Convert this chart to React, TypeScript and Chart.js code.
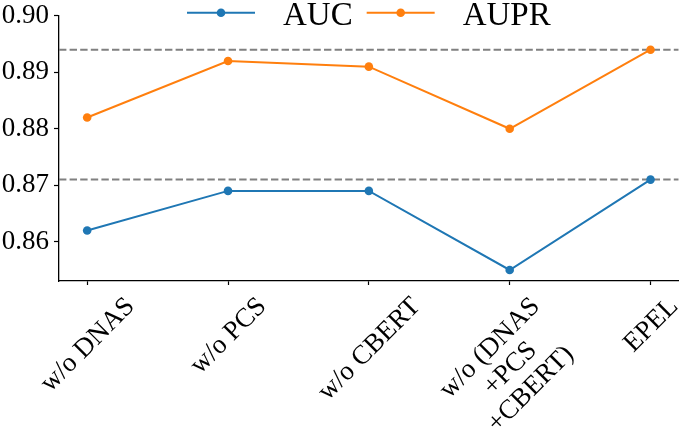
import React, { useRef, useEffect } from 'react';
import { Chart, registerables } from 'chart.js';

Chart.register(...registerables);

const categories = ['w/o DNAS', 'w/o PCS', 'w/o CBERT', 'w/o (DNAS\n+PCS\n+CBERT)', 'EPEL'];
const aucValues = [0.862, 0.869, 0.869, 0.855, 0.871];
const auprValues = [0.882, 0.892, 0.891, 0.880, 0.894];
const yTicks = [0.86, 0.87, 0.88, 0.89, 0.90];

const BLUE = '#1f77b4';
const ORANGE = '#ff7f0e';
const FONT = '"Liberation Serif", "Times New Roman", Tinos, serif';
const TICK_SIZE = 27;
const LEGEND_SIZE = 33;
const X_MIN = -0.2;
const X_MAX = categories.length - 1 + 0.2;

// rotated, centered x labels like matplotlib (rotation=45, ha=center)
const xLabelPlugin = {
  id: 'xLabels',
  afterDraw(chart: Chart) {
    const { ctx } = chart;
    const x = chart.scales.x;
    const lh = TICK_SIZE * 1.07;
    ctx.save();
    ctx.font = `${TICK_SIZE}px ${FONT}`;
    ctx.fillStyle = '#000';
    ctx.textAlign = 'center';
    ctx.textBaseline = 'middle';
    categories.forEach((label, i) => {
      const lines = label.split('\n');
      const w = Math.max(...lines.map(l => ctx.measureText(l).width));
      const h = (lines.length - 1) * lh + TICK_SIZE * 0.7;
      const half = ((w + h) * Math.SQRT1_2) / 2;
      const cx = x.getPixelForValue(i);
      const cy = x.top + 14 + half;
      ctx.save();
      ctx.translate(cx, cy);
      ctx.rotate(-Math.PI / 4);
      lines.forEach((line, j) => {
        ctx.fillText(line, 0, (j - (lines.length - 1) / 2) * lh + TICK_SIZE * 0.04);
      });
      ctx.restore();
    });
    ctx.restore();
  },
};

// matplotlib-style legend: line + marker handle, upper center
const legendPlugin = {
  id: 'topLegend',
  afterDraw(chart: Chart) {
    const { ctx, chartArea } = chart;
    const items = chart.data.datasets.filter(d => d.label);
    const HANDLE = 68;
    const TEXT_GAP = 28;
    const ITEM_GAP = 14;
    ctx.save();
    ctx.font = `${LEGEND_SIZE}px ${FONT}`;
    const widths = items.map(d => ctx.measureText(String(d.label)).width);
    const total = widths.reduce((s, w) => s + HANDLE + TEXT_GAP + w, 0) + ITEM_GAP * (items.length - 1);
    let px = (chartArea.left + chartArea.right) / 2 - total / 2;
    const cy = 12.7;
    items.forEach((d, i) => {
      const color = d.borderColor as string;
      ctx.strokeStyle = color;
      ctx.lineWidth = 2;
      ctx.beginPath();
      ctx.moveTo(px, cy);
      ctx.lineTo(px + HANDLE, cy);
      ctx.stroke();
      ctx.fillStyle = color;
      ctx.beginPath();
      ctx.arc(px + HANDLE / 2, cy, 4.3, 0, Math.PI * 2);
      ctx.fill();
      ctx.fillStyle = '#000';
      ctx.textAlign = 'left';
      ctx.textBaseline = 'alphabetic';
      ctx.fillText(String(d.label), px + HANDLE + TEXT_GAP, 25);
      px += HANDLE + TEXT_GAP + widths[i] + ITEM_GAP;
    });
    ctx.restore();
  },
};

export default function App() {
  const canvasRef = useRef<HTMLCanvasElement>(null);
  const chartRef = useRef<Chart | null>(null);

  useEffect(() => {
    const canvas = canvasRef.current;
    if (!canvas) return;
    let cancelled = false;

    const refLines = [auprValues[auprValues.length - 1], aucValues[aucValues.length - 1]];

    const seriesStyle = (color: string) => ({
      borderColor: color,
      backgroundColor: color,
      borderWidth: 2,
      pointRadius: 4.3,
      pointBorderWidth: 0,
      pointBackgroundColor: color,
      tension: 0,
      fill: false,
      order: 1,
    });

    const build = () => {
      if (cancelled) return;
      chartRef.current?.destroy();
      chartRef.current = new Chart(canvas, {
        type: 'line',
        data: {
          datasets: [
            {
              label: 'AUC',
              data: aucValues.map((v, i) => ({ x: i, y: v })),
              ...seriesStyle(BLUE),
            },
            {
              label: 'AUPR',
              data: auprValues.map((v, i) => ({ x: i, y: v })),
              ...seriesStyle(ORANGE),
            },
            ...refLines.map(v => ({
              label: '',
              data: [{ x: X_MIN, y: v }, { x: X_MAX, y: v }],
              borderColor: '#808080',
              borderWidth: 2,
              borderDash: [7.4, 3.2],
              pointRadius: 0,
              fill: false,
              order: 2,
            })),
          ],
        },
        options: {
          animation: false,
          responsive: false,
          layout: { padding: { top: 11, right: 2, left: 0, bottom: 0 } },
          plugins: {
            legend: { display: false },
            tooltip: { enabled: false },
          },
          scales: {
            x: {
              type: 'linear',
              min: X_MIN,
              max: X_MAX,
              afterBuildTicks: scale => {
                scale.ticks = categories.map((_, i) => ({ value: i }));
              },
              afterFit: scale => {
                scale.height = 150;
              },
              ticks: { display: false },
              grid: {
                drawOnChartArea: false,
                drawTicks: true,
                tickLength: 4,
                tickColor: '#000',
                tickWidth: 1.2,
              },
              border: { display: true, color: '#000', width: 1.3 },
            },
            y: {
              type: 'linear',
              min: 0.85305,
              max: 0.9,
              afterBuildTicks: scale => {
                scale.ticks = yTicks.map(v => ({ value: v }));
              },
              afterFit: scale => {
                scale.width = 59;
              },
              ticks: {
                color: '#000',
                padding: 5,
                font: { family: FONT, size: TICK_SIZE, lineHeight: 0.8 },
                callback: v => Number(v).toFixed(2),
              },
              grid: {
                drawOnChartArea: false,
                drawTicks: true,
                tickLength: 5,
                tickColor: '#000',
                tickWidth: 1.2,
              },
              border: { display: true, color: '#000', width: 1.3 },
            },
          },
        },
        plugins: [xLabelPlugin, legendPlugin],
      });
    };

    const fonts = (document as any).fonts;
    if (fonts && fonts.load) {
      Promise.all([
        fonts.load(`${TICK_SIZE}px "Liberation Serif"`),
        fonts.load(`${LEGEND_SIZE}px "Liberation Serif"`),
      ]).then(build, build);
    } else {
      build();
    }

    return () => {
      cancelled = true;
      chartRef.current?.destroy();
      chartRef.current = null;
    };
  }, []);

  return (
    <div style={{ position: 'fixed', left: 0, top: 0, width: 683, height: 431, background: '#fff' }}>
      <span style={{ position: 'absolute', visibility: 'hidden', fontFamily: FONT }}>0.90 AUC</span>
      <canvas ref={canvasRef} width={683} height={431} />
    </div>
  );
}
